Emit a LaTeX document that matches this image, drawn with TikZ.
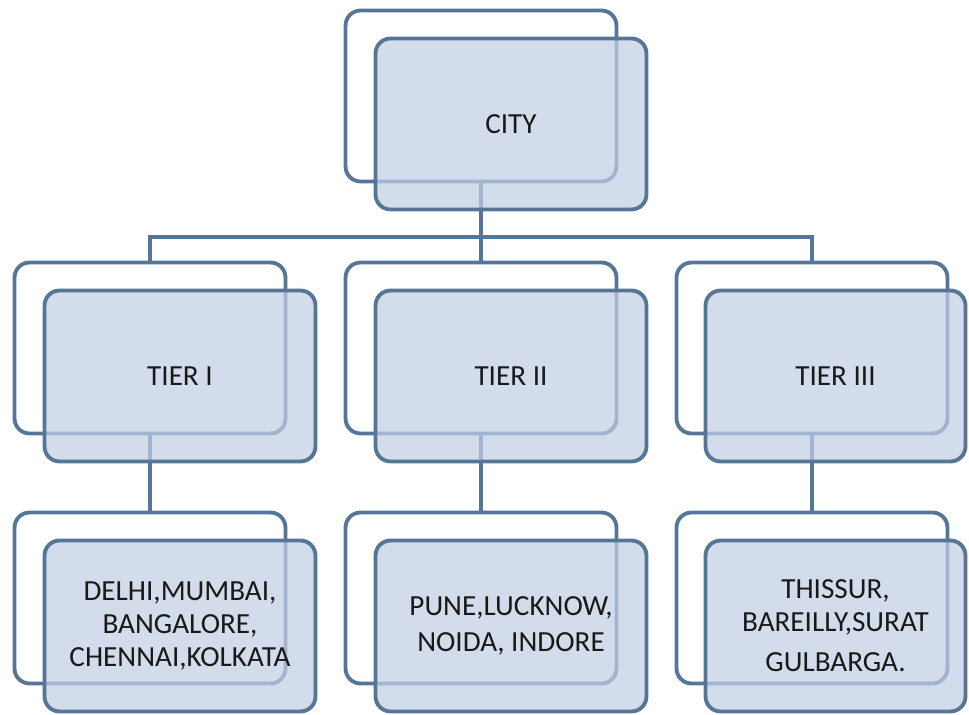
\documentclass[tikz,border=0pt]{standalone}
\usepackage{fontspec}
\setmainfont{Carlito}
\usetikzlibrary{backgrounds}
\definecolor{boxline}{RGB}{86,118,152}
\definecolor{boxfill}{RGB}{194,206,227}

\begin{document}
\begin{tikzpicture}[x=0.02cm, y=-0.02cm,
    backbox/.style={draw=boxline, line width=2.2pt, rounded corners=0.3cm,
        minimum width=5.42cm, minimum height=3.42cm, inner sep=0pt},
    frontbox/.style={backbox, fill=boxfill, fill opacity=0.72, text opacity=1,
        text=black!90, align=center, font=\fontsize{16.6}{18.7}\selectfont},
    link/.style={draw=boxline, line width=2.1pt}]
    \useasboundingbox (0,0) rectangle (969,715);

    % Define Coordinates
    \coordinate (bus) at (481,237);

    % Top box
    \node[backbox] (cityback) at (481,96) {};
    \node[frontbox, xshift=0.6cm, yshift=-0.56cm] (city) at (cityback) {CITY};

    % Tier boxes
    \node[backbox] (t1back) at (150,348) {};
    \node[frontbox, xshift=0.6cm, yshift=-0.56cm] (t1) at (t1back) {TIER I};
    \node[backbox] (t2back) at (481,348) {};
    \node[frontbox, xshift=0.6cm, yshift=-0.56cm] (t2) at (t2back) {TIER II};
    \node[backbox] (t3back) at (812,348) {};
    \node[frontbox, minimum width=5.2cm, xshift=0.47cm, yshift=-0.56cm] (t3) at (t3back) {TIER III};

    % City boxes
    \node[backbox] (b1back) at (150,598) {};
    \node[frontbox, xshift=0.6cm, yshift=-0.56cm] (b1) at (b1back)
        {DELHI,MUMBAI,\\BANGALORE,\\CHENNAI,KOLKATA};
    \node[backbox] (b2back) at (481,598) {};
    \node[frontbox, xshift=0.6cm, yshift=-0.56cm] (b2) at (b2back)
        {PUNE,LUCKNOW,\\[2pt]NOIDA, INDORE};
    \node[backbox] (b3back) at (812,598) {};
    \node[frontbox, minimum width=5.2cm, xshift=0.47cm, yshift=-0.56cm] (b3) at (b3back)
        {THISSUR,\\BAREILLY,SURAT\\[4pt]GULBARGA.};

    % Draw Connectors behind the boxes
    \begin{pgfonlayer}{background}
        \draw[link] (cityback.south) -- (bus);
        \draw[link] (t1back.north) |- (bus) -| (t3back.north);
        \draw[link] (bus) -- (t2back.north);
        \foreach \i in {1,2,3}
            \draw[link] (t\i back.south) -- (b\i back.north);
    \end{pgfonlayer}
\end{tikzpicture}
\end{document}
